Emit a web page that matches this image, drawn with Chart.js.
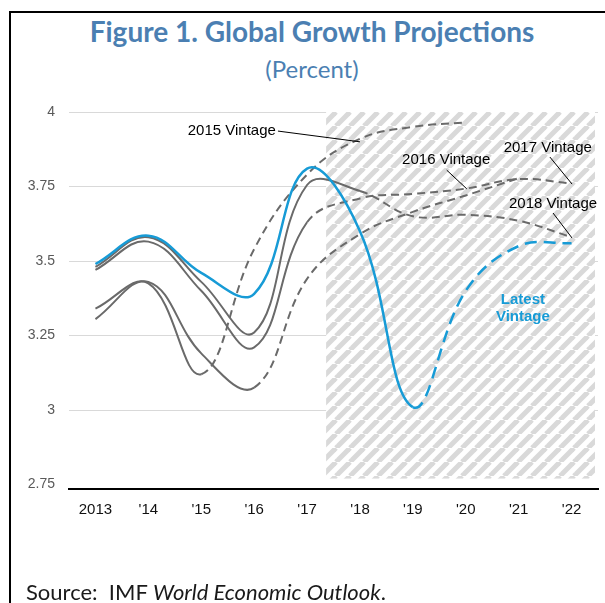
<!DOCTYPE html>
<html>
<head>
<meta charset="utf-8">
<script src="https://cdn.jsdelivr.net/npm/chart.js@4.4.1/dist/chart.umd.min.js"></script>
<style>
  html, body { margin: 0; padding: 0; background: #fff; overflow: hidden; }
  body { width: 605px; height: 603px; position: relative; }
  #frame { position: absolute; left: 9px; top: 11px; width: 700px; height: 700px;
           border-top: 2px solid #000; border-left: 2px solid #000; }
  #title, #sub { position: absolute; left: 0; width: 624px; text-align: center;
                 font-family: Lato, 'Open Sans', sans-serif; color: #4b7fb2; white-space: nowrap; }
  #title { top: 17px; font-size: 28px; line-height: 28px; font-weight: 700; }
  #sub { top: 57px; font-size: 24px; line-height: 24px; font-weight: 400; }
  #source { position: absolute; left: 26px; top: 581px; font-family: Lato, 'Open Sans', sans-serif;
            font-size: 22px; line-height: 22px; color: #1a1a1a; white-space: nowrap; }
  canvas { position: absolute; left: 0; top: 0; }
</style>
</head>
<body>
<div id="frame"></div>
<div id="title">Figure 1. Global Growth Projections</div>
<div id="sub">(Percent)</div>
<canvas id="chart" width="605" height="603"></canvas>
<div id="source">Source:&nbsp; IMF <i>World Economic Outlook</i>.</div>
<script>
'use strict';

/* Global growth, successive WEO vintages (percent). Solid = outturn,
   dashed = projection from the index given in *ProjFrom. */
const years = ['2013', "'14", "'15", "'16", "'17", "'18", "'19", "'20", "'21", "'22"];

const latest   = [3.49, 3.585, 3.46, 3.39, 3.81, 3.60, 3.01, 3.40, 3.55, 3.56];
const latestProjFrom = 6;
const v2018    = [3.48, 3.58, 3.43, 3.26, 3.755, 3.735, 3.65, 3.655, 3.635, 3.58];
const v2018ProjFrom = 5;
const v2017    = [3.47, 3.565, 3.40, 3.21, 3.63, 3.71, 3.725, 3.743, 3.775, 3.76];
const v2017ProjFrom = 4;
const v2016    = [3.305, 3.43, 3.19, 3.075, 3.44, 3.59, 3.665, 3.72, 3.778, null];
const v2016ProjFrom = 3;
const v2015    = [3.34, 3.425, 3.12, 3.54, 3.79, 3.91, 3.95, 3.965, null, null];
const v2015ProjFrom = 2;

const yTicks = [2.75, 3, 3.25, 3.5, 3.75, 4];

// shaded projection period starts a little after '17 (category index)
const shadeFrom = 4.36;
const shadeTo = 2.77;

// callouts: text, text anchor [x index, y value], leader [from, to]
const callouts = [
  { text: '2015 Vintage', align: 'right',  at: [3.41, 3.936], from: [3.45, 3.936], to: [5.0, 3.90] },
  { text: '2016 Vintage', align: 'center', at: [6.63, 3.839], from: [6.64, 3.805], to: [7.02, 3.742] },
  { text: '2017 Vintage', align: 'center', at: [8.55, 3.879], from: [8.59, 3.849], to: [9.01, 3.758] },
  { text: '2018 Vintage', align: 'center', at: [8.65, 3.691], from: [8.65, 3.661], to: [9.01, 3.577] },
];
const latestLabel = { lines: ['Latest', 'Vintage'], at: [8.08, 3.37], step: 0.058 };

const BLUE = '#179bd6';
const GREY = '#6a6a6a';
const FONT = "'Liberation Sans', Arial, sans-serif";

function vintage(label, data, projFrom, color, width, dash) {
  return {
    label, data,
    borderColor: color, borderWidth: width,
    pointRadius: 0, tension: 0.4, fill: false,
    segment: { borderDash: ctx => (ctx.p0DataIndex >= projFrom ? dash : undefined) },
  };
}

function hatchPattern() {
  const c = document.createElement('canvas');
  const s = 14;
  c.width = s; c.height = s;
  const g = c.getContext('2d');
  g.strokeStyle = '#d9d9d9';
  g.lineWidth = 5;
  for (const o of [-s, 0, s]) {
    g.beginPath(); g.moveTo(o, s); g.lineTo(o + s, 0); g.stroke();
  }
  return g.createPattern(c, 'repeat');
}

const shadePlugin = {
  id: 'shade',
  beforeDatasetsDraw(chart) {
    const { ctx, chartArea, scales: { x, y } } = chart;
    const l = x.getPixelForValue(shadeFrom), r = chartArea.right - 3;
    const t = y.getPixelForValue(4), b = y.getPixelForValue(shadeTo);
    ctx.save();
    ctx.fillStyle = '#fff';
    ctx.fillRect(l, t, r - l, b - t);
    ctx.fillStyle = hatchPattern();
    ctx.fillRect(l, t, r - l, b - t);
    ctx.restore();
  },
};

const calloutPlugin = {
  id: 'callouts',
  afterDatasetsDraw(chart) {
    const { ctx, scales: { x, y } } = chart;
    const px = p => [x.getPixelForValue(p[0]), y.getPixelForValue(p[1])];
    ctx.save();
    ctx.font = `15px ${FONT}`;
    ctx.fillStyle = '#000';
    ctx.strokeStyle = '#000';
    ctx.lineWidth = 1;
    ctx.textBaseline = 'middle';
    for (const c of callouts) {
      const [tx, ty] = px(c.at);
      ctx.textAlign = c.align;
      ctx.fillText(c.text, tx, ty);
      const [fx, fy] = px(c.from), [ex, ey] = px(c.to);
      ctx.beginPath(); ctx.moveTo(fx, fy); ctx.lineTo(ex, ey); ctx.stroke();
    }
    ctx.font = `bold 15px ${FONT}`;
    ctx.fillStyle = BLUE;
    ctx.textAlign = 'center';
    latestLabel.lines.forEach((line, i) => {
      const [tx, ty] = px([latestLabel.at[0], latestLabel.at[1] - i * latestLabel.step]);
      ctx.fillText(line, tx, ty);
    });
    ctx.restore();
  },
};

new Chart(document.getElementById('chart'), {
  type: 'line',
  data: {
    labels: years,
    datasets: [
      vintage('Latest Vintage', latest, latestProjFrom, BLUE, 2.5, [12, 7]),
      vintage('2018 Vintage', v2018, v2018ProjFrom, GREY, 2, [8, 5]),
      vintage('2017 Vintage', v2017, v2017ProjFrom, GREY, 2, [8, 5]),
      vintage('2016 Vintage', v2016, v2016ProjFrom, GREY, 2, [8, 5]),
      vintage('2015 Vintage', v2015, v2015ProjFrom, GREY, 2, [8, 5]),
    ],
  },
  options: {
    responsive: false,
    animation: false,
    layout: { padding: { top: 112, left: 0, right: 7, bottom: 70 } },
    plugins: { legend: { display: false }, tooltip: { enabled: false } },
    scales: {
      x: {
        offset: true,
        grid: { display: false, drawTicks: false },
        border: { display: true, color: '#000', width: 2 },
        ticks: { color: '#111', font: { family: FONT, size: 15 }, padding: 12, maxRotation: 0 },
        afterFit: s => { s.height = 44; },
      },
      y: {
        min: 2.735, max: 4,
        afterBuildTicks: s => { s.ticks = yTicks.map(v => ({ value: v })); },
        grid: {
          drawTicks: false,
          color: c => (c.tick && c.tick.value === 2.75 ? 'rgba(0,0,0,0)' : '#d9d9d9'),
        },
        border: { display: false },
        ticks: { color: '#595959', font: { family: FONT, size: 14 }, padding: 14, callback: v => String(v) },
        afterFit: s => { s.width = 69; },
      },
    },
  },
  plugins: [shadePlugin, calloutPlugin],
});
</script>
</body>
</html>
